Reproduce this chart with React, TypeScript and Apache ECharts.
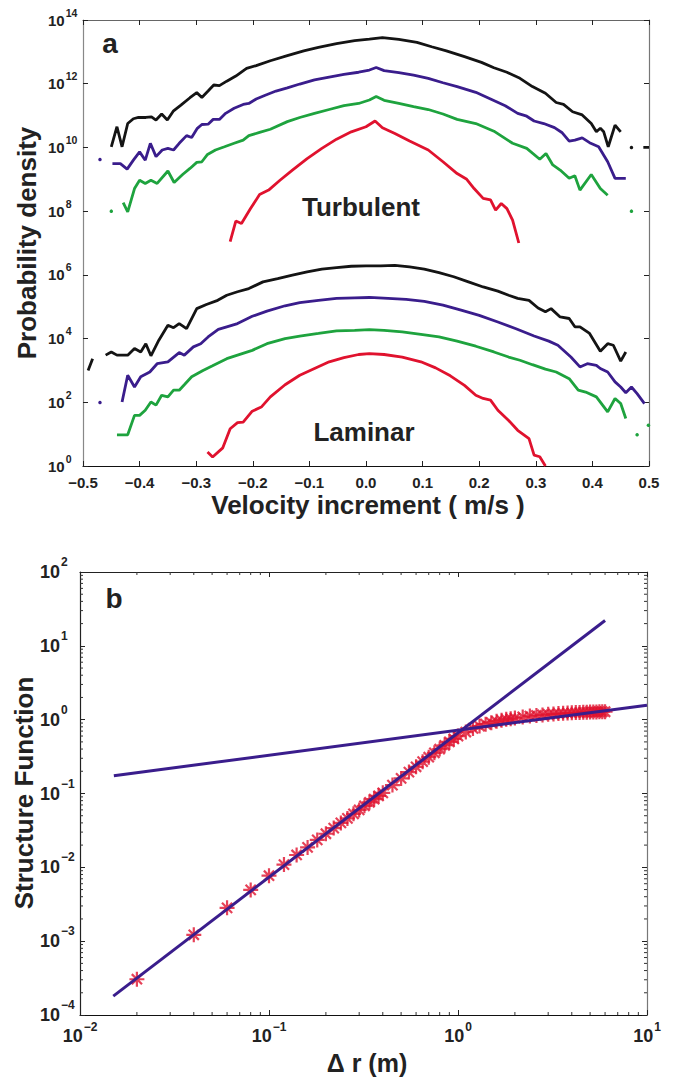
import React, { useEffect, useRef } from 'react';
import * as echarts from 'echarts';

// ---------- Panel a: velocity-increment PDFs (values are log10 of probability density) ----------
type Pt = [number, number | null];

const turbBlack: Pt[] = [
  [-0.450, 10.02], [-0.440, 10.65], [-0.431, 10.02], [-0.421, 10.75], [-0.411, 10.90], [-0.402, 10.94],
  [-0.389, 10.94], [-0.379, 10.96], [-0.371, 10.86], [-0.361, 11.05], [-0.351, 10.86], [-0.340, 11.15],
  [-0.327, 11.33], [-0.311, 11.56], [-0.299, 11.72], [-0.290, 11.57], [-0.279, 11.77], [-0.269, 11.96],
  [-0.259, 11.94], [-0.246, 12.08], [-0.230, 12.24], [-0.211, 12.48], [-0.194, 12.57], [-0.169, 12.72],
  [-0.139, 12.88], [-0.110, 13.03], [-0.084, 13.14], [-0.052, 13.26], [-0.020, 13.35], [0.006, 13.40],
  [0.029, 13.45], [0.058, 13.39], [0.090, 13.30], [0.116, 13.16], [0.142, 13.03], [0.174, 12.85],
  [0.204, 12.67], [0.226, 12.50], [0.249, 12.36], [0.272, 12.17], [0.294, 11.91], [0.317, 11.70],
  [0.336, 11.41], [0.349, 11.35], [0.365, 11.12], [0.382, 11.02], [0.398, 10.75], [0.407, 10.49],
  [0.414, 10.60], [0.420, 10.49], [0.428, 10.02], [0.440, 10.70], [0.450, 10.49],
  [0.460, null], [0.469, 10.0], [0.480, null], [0.490, 10.0], [0.500, 10.0],
];

const turbBlue: Pt[] = [
  [-0.470, 9.62], [-0.460, null],
  [-0.448, 9.49], [-0.434, 9.49], [-0.422, 9.32], [-0.411, 9.60], [-0.400, 9.86], [-0.390, 9.60],
  [-0.381, 10.13], [-0.371, 9.71], [-0.360, 9.92], [-0.350, 9.97], [-0.340, 9.92], [-0.330, 10.13],
  [-0.317, 10.37], [-0.308, 10.31], [-0.298, 10.60], [-0.290, 10.72], [-0.279, 10.73], [-0.270, 10.88],
  [-0.259, 10.88], [-0.248, 11.07], [-0.233, 11.23], [-0.217, 11.35], [-0.207, 11.38], [-0.194, 11.52],
  [-0.178, 11.64], [-0.159, 11.77], [-0.139, 11.87], [-0.117, 11.99], [-0.091, 12.12], [-0.065, 12.21],
  [-0.039, 12.29], [-0.013, 12.36], [0.006, 12.43], [0.018, 12.51], [0.032, 12.41], [0.058, 12.35],
  [0.084, 12.27], [0.110, 12.17], [0.136, 12.03], [0.161, 11.91], [0.194, 11.73], [0.220, 11.52],
  [0.246, 11.31], [0.268, 11.07], [0.284, 10.98], [0.297, 10.83], [0.314, 10.75], [0.333, 10.62],
  [0.346, 10.47], [0.359, 10.20], [0.369, 10.23], [0.382, 10.30], [0.395, 10.15], [0.411, 10.02],
  [0.427, 9.55], [0.440, 9.03], [0.459, 9.03],
];

const turbGreen: Pt[] = [
  [-0.450, 8.00], [-0.440, null],
  [-0.429, 8.27], [-0.421, 7.98], [-0.409, 8.71], [-0.400, 8.97], [-0.390, 8.87], [-0.380, 8.97],
  [-0.369, 8.87], [-0.350, 9.26], [-0.339, 8.90], [-0.324, 9.15], [-0.311, 9.34], [-0.299, 9.53],
  [-0.290, 9.55], [-0.280, 9.78], [-0.266, 9.92], [-0.250, 10.02], [-0.233, 10.13], [-0.217, 10.23],
  [-0.207, 10.37], [-0.188, 10.47], [-0.169, 10.57], [-0.139, 10.81], [-0.117, 10.94], [-0.091, 11.07],
  [-0.065, 11.19], [-0.039, 11.31], [-0.013, 11.38], [0.006, 11.49], [0.018, 11.60], [0.032, 11.48],
  [0.058, 11.38], [0.084, 11.28], [0.110, 11.19], [0.136, 11.05], [0.161, 10.88], [0.194, 10.75],
  [0.226, 10.51], [0.259, 10.13], [0.284, 9.97], [0.307, 9.63], [0.318, 9.81], [0.330, 9.45],
  [0.343, 9.29], [0.359, 9.03], [0.369, 9.11], [0.378, 8.66], [0.398, 9.15], [0.414, 8.71], [0.427, 8.50],
  [0.440, null], [0.469, 8.00],
];

const turbRed: Pt[] = [
  [-0.240, 7.04], [-0.230, 7.69], [-0.220, 7.61], [-0.204, 8.08], [-0.188, 8.52], [-0.172, 8.66],
  [-0.152, 8.97], [-0.130, 9.29], [-0.104, 9.65], [-0.078, 9.97], [-0.052, 10.26], [-0.026, 10.49],
  [0.000, 10.65], [0.016, 10.83], [0.029, 10.62], [0.051, 10.44], [0.077, 10.20], [0.110, 9.92],
  [0.136, 9.55], [0.161, 9.18], [0.178, 9.00], [0.191, 8.71], [0.207, 8.40], [0.220, 8.35],
  [0.229, 8.03], [0.239, 8.24], [0.249, 8.08], [0.259, 7.72], [0.270, 7.00],
];

const lamBlack: Pt[] = [
  [-0.491, 3.00], [-0.483, 3.37], [-0.470, null],
  [-0.460, 3.48], [-0.450, 3.58], [-0.440, 3.48], [-0.421, 3.48], [-0.409, 3.69], [-0.398, 3.58],
  [-0.389, 3.84], [-0.380, 3.46], [-0.366, 3.95], [-0.350, 4.42], [-0.340, 4.34], [-0.330, 4.47],
  [-0.317, 4.31], [-0.299, 4.94], [-0.282, 5.07], [-0.262, 5.20], [-0.246, 5.36], [-0.227, 5.47],
  [-0.207, 5.57], [-0.182, 5.78], [-0.156, 5.88], [-0.130, 5.99], [-0.104, 6.09], [-0.078, 6.18],
  [-0.052, 6.23], [-0.026, 6.27], [0.000, 6.28], [0.026, 6.28], [0.051, 6.30], [0.077, 6.25],
  [0.103, 6.18], [0.129, 6.07], [0.155, 5.94], [0.181, 5.78], [0.207, 5.62], [0.233, 5.49],
  [0.252, 5.36], [0.268, 5.26], [0.288, 5.20], [0.304, 4.96], [0.317, 4.84], [0.327, 4.94],
  [0.343, 4.68], [0.359, 4.63], [0.369, 4.37], [0.378, 4.37], [0.395, 4.16], [0.414, 3.60],
  [0.427, 3.84], [0.437, 3.79], [0.450, 3.29], [0.459, 3.58],
];

const lamBlue: Pt[] = [
  [-0.470, 1.99], [-0.450, null],
  [-0.431, 2.01], [-0.421, 2.85], [-0.409, 2.48], [-0.398, 2.80], [-0.382, 2.95], [-0.369, 3.21],
  [-0.350, 3.27], [-0.330, 3.56], [-0.321, 3.48], [-0.305, 3.74], [-0.292, 3.84], [-0.279, 4.05],
  [-0.261, 4.29], [-0.246, 4.37], [-0.227, 4.47], [-0.201, 4.70], [-0.175, 4.86], [-0.143, 5.03],
  [-0.117, 5.13], [-0.084, 5.20], [-0.052, 5.26], [-0.020, 5.28], [0.006, 5.29], [0.039, 5.26],
  [0.071, 5.23], [0.103, 5.17], [0.136, 5.05], [0.168, 4.89], [0.200, 4.73], [0.233, 4.52],
  [0.265, 4.31], [0.297, 4.08], [0.323, 3.92], [0.339, 3.79], [0.362, 3.42], [0.378, 3.11],
  [0.391, 3.21], [0.407, 3.16], [0.414, 3.06], [0.427, 2.95], [0.440, 2.64], [0.450, 2.48],
  [0.459, 2.30], [0.469, 2.48], [0.479, 2.27], [0.492, 1.96],
];

const lamGreen: Pt[] = [
  [-0.440, 0.98], [-0.421, 0.98], [-0.409, 1.59], [-0.400, 1.59], [-0.390, 1.75], [-0.380, 2.01],
  [-0.371, 1.91], [-0.361, 2.22], [-0.350, 2.17], [-0.340, 2.38], [-0.330, 2.38], [-0.321, 2.55],
  [-0.308, 2.80], [-0.288, 3.00], [-0.272, 3.14], [-0.246, 3.37], [-0.227, 3.48], [-0.201, 3.63],
  [-0.175, 3.84], [-0.143, 4.00], [-0.117, 4.08], [-0.084, 4.16], [-0.052, 4.24], [-0.020, 4.26],
  [0.006, 4.28], [0.032, 4.26], [0.064, 4.21], [0.097, 4.13], [0.129, 4.05], [0.161, 3.92],
  [0.194, 3.76], [0.226, 3.58], [0.252, 3.42], [0.272, 3.32], [0.294, 3.18], [0.317, 3.04],
  [0.336, 2.95], [0.359, 2.74], [0.375, 2.38], [0.388, 2.32], [0.407, 2.17], [0.427, 1.70],
  [0.440, 2.12], [0.450, 1.96], [0.459, 1.49],
  [0.469, null], [0.479, 0.98], [0.489, null], [0.499, 1.28],
];

const lamRed: Pt[] = [
  [-0.280, 0.44], [-0.271, 0.28], [-0.253, 0.57], [-0.240, 1.17], [-0.227, 1.36], [-0.217, 1.38],
  [-0.201, 1.72], [-0.185, 1.85], [-0.169, 2.17], [-0.143, 2.55], [-0.117, 2.85], [-0.091, 3.06],
  [-0.065, 3.27], [-0.039, 3.40], [-0.013, 3.50], [0.006, 3.53], [0.032, 3.50], [0.064, 3.42],
  [0.097, 3.27], [0.123, 3.08], [0.149, 2.83], [0.174, 2.53], [0.194, 2.22], [0.207, 2.12],
  [0.220, 2.07], [0.233, 1.75], [0.252, 1.43], [0.268, 1.12], [0.288, 0.86], [0.297, 0.34],
  [0.307, 0.29], [0.317, 0.00],
];

// ---------- Panel b: structure function vs separation ----------
const sfDr = [
  0.02, 0.04, 0.06, 0.08, 0.10, 0.12, 0.14, 0.16, 0.18, 0.20, 0.22, 0.24, 0.26, 0.28, 0.30, 0.32, 0.34,
  0.36, 0.38, 0.40, 0.45, 0.50, 0.55, 0.60, 0.65, 0.70, 0.75, 0.80, 0.85, 0.90, 0.95, 1.00, 1.1, 1.2,
  1.3, 1.4, 1.5, 1.6, 1.7, 1.8, 1.9, 2.0, 2.2, 2.4, 2.6, 2.8, 3.0, 3.2, 3.4, 3.6, 3.8, 4.0, 4.2, 4.4,
  4.6, 4.8, 5.0, 5.2, 5.4, 5.6, 5.8, 6.0,
];
const sfVal = [
  3.05e-4, 1.22e-3, 2.83e-3, 4.94e-3, 7.7e-3, 1.09e-2, 1.47e-2, 1.86e-2, 2.35e-2, 2.85e-2, 3.4e-2,
  4.0e-2, 4.6e-2, 5.3e-2, 6.0e-2, 6.8e-2, 7.6e-2, 8.4e-2, 9.3e-2, 0.102, 0.13, 0.16, 0.195, 0.23,
  0.27, 0.31, 0.355, 0.40, 0.45, 0.50, 0.55, 0.60, 0.68, 0.76, 0.82, 0.87, 0.91, 0.95, 0.98, 1.01,
  1.03, 1.05, 1.09, 1.12, 1.14, 1.16, 1.18, 1.19, 1.21, 1.22, 1.23, 1.24, 1.25, 1.25, 1.26, 1.26,
  1.27, 1.27, 1.27, 1.28, 1.28, 1.28,
];
// power-law fits (end points)
const fitSmallDr = [0.015, 6.0];
const fitSmallVal = [1.8e-4, 22];
const fitLargeDr = [0.0151, 10];
const fitLargeVal = [0.174, 1.57];

const panelLabels = ['a', 'b'];
const regimeLabels = ['Turbulent', 'Laminar'];

const FONT = '"Liberation Sans", Arial, Helvetica, sans-serif';
const BLACK = '#141414';
const BLUE = '#3a1d8c';
const GREEN = '#1ea33e';
const RED = '#e0122e';

const supText = (e: number) => (e < 0 ? '\u2212' + Math.abs(e) : String(e));

function lineData(pts: Pt[]) {
  return pts.map((p, i) => {
    const prevNull = i === 0 || pts[i - 1][1] === null;
    const nextNull = i === pts.length - 1 || pts[i + 1][1] === null;
    if (p[1] !== null && prevNull && nextNull) {
      return { value: p, symbol: 'circle', symbolSize: 3.5 };
    }
    return { value: p, symbol: 'none' };
  });
}

function pdfSeries(pts: Pt[], color: string) {
  return {
    type: 'line',
    xAxisIndex: 0,
    yAxisIndex: 0,
    data: lineData(pts),
    showSymbol: true,
    showAllSymbol: true,
    symbol: 'none',
    itemStyle: { color },
    lineStyle: { color, width: 2.8 },
    connectNulls: false,
    silent: true,
  };
}

const ASTERISK = 'path://M5 0L5 10M0 5L10 5M1.6 1.6L8.4 8.4M8.4 1.6L1.6 8.4';

export default function App() {
  const ref = useRef<HTMLDivElement>(null);

  useEffect(() => {
    if (!ref.current) return;
    const chart = echarts.init(ref.current, undefined, { renderer: 'svg' });

    const minorX: number[] = [];
    for (let d = -2; d < 1; d++) for (let m = 2; m <= 9; m++) minorX.push(m * Math.pow(10, d));
    const minorY: number[] = [];
    for (let d = -4; d < 2; d++) for (let m = 2; m <= 9; m++) minorY.push(m * Math.pow(10, d));

    const tickStyle = { color: '#222', width: 1 };
    const richA = {
      b: { fontSize: 15, fontWeight: 'bold', fontFamily: FONT, color: '#222' },
      s: { fontSize: 10.5, fontWeight: 'bold', fontFamily: FONT, color: '#222', padding: [0, 0, 15, 1] },
    };
    const richB = {
      b: { fontSize: 18, fontWeight: 'bold', fontFamily: FONT, color: '#222' },
      s: { fontSize: 12, fontWeight: 'bold', fontFamily: FONT, color: '#222', padding: [0, 0, 20, 1] },
    };
    const richBx = {
      b: { fontSize: 18, fontWeight: 'bold', fontFamily: FONT, color: '#222' },
      s: { fontSize: 12, fontWeight: 'bold', fontFamily: FONT, color: '#222', padding: [0, 0, 17, 1] },
    };
    const logLabel = (v: number) => `{b|10}{s|${supText(Math.round(Math.log10(v)))}}`;

    const txt = (text: string, x: number, y: number, size: number, rotation = 0) => ({
      type: 'text',
      x,
      y,
      rotation,
      silent: true,
      style: {
        text,
        fontSize: size,
        fontWeight: 'bold',
        fontFamily: FONT,
        fill: '#222',
        align: 'center',
        verticalAlign: 'middle',
      },
    });

    const minorTick = (axis: 'x' | 'y') => (params: any, api: any) => {
      const cs = params.coordSys;
      const len = 3;
      const st = { stroke: '#333', lineWidth: 1 };
      if (axis === 'x') {
        const x = api.coord([api.value(0), 1])[0];
        return {
          type: 'group',
          children: [
            { type: 'line', shape: { x1: x, y1: cs.y + cs.height, x2: x, y2: cs.y + cs.height - len }, style: st },
            { type: 'line', shape: { x1: x, y1: cs.y, x2: x, y2: cs.y + len }, style: st },
          ],
        };
      }
      const y = api.coord([1, api.value(1)])[1];
      return {
        type: 'group',
        children: [
          { type: 'line', shape: { x1: cs.x, y1: y, x2: cs.x + len, y2: y }, style: st },
          { type: 'line', shape: { x1: cs.x + cs.width, y1: y, x2: cs.x + cs.width - len, y2: y }, style: st },
        ],
      };
    };

    const line = (color: string) => ({ onZero: false, lineStyle: { color, width: 1.2 } });

    chart.setOption({
      animation: false,
      backgroundColor: '#fff',
      grid: [
        { left: 83, top: 20, width: 566, height: 446 },
        { left: 80, top: 572, width: 567, height: 443 },
      ],
      xAxis: [
        {
          gridIndex: 0, type: 'value', min: -0.5, max: 0.5, interval: 0.1, position: 'bottom',
          axisLine: line('#111'),
          axisTick: { inside: true, length: 5, lineStyle: tickStyle },
          axisLabel: {
            margin: 9, fontSize: 15, fontWeight: 'bold', fontFamily: FONT, color: '#222',
            formatter: (v: number) => (v < -1e-9 ? '\u2212' + Math.abs(v).toFixed(1) : Math.abs(v).toFixed(1)),
          },
          splitLine: { show: false },
        },
        {
          gridIndex: 0, type: 'value', min: -0.5, max: 0.5, interval: 0.1, position: 'top',
          axisLine: line('#666'),
          axisTick: { inside: true, length: 5, lineStyle: tickStyle },
          axisLabel: { show: false },
          splitLine: { show: false },
        },
        {
          gridIndex: 1, type: 'log', logBase: 10, min: 0.01, max: 10, position: 'bottom',
          axisLine: line('#111'),
          axisTick: { inside: true, length: 5, lineStyle: tickStyle },
          axisLabel: { margin: 6, formatter: logLabel, rich: richBx },
          splitLine: { show: false },
        },
        {
          gridIndex: 1, type: 'log', logBase: 10, min: 0.01, max: 10, position: 'top',
          axisLine: line('#222'),
          axisTick: { inside: true, length: 5, lineStyle: tickStyle },
          axisLabel: { show: false },
          splitLine: { show: false },
        },
      ],
      yAxis: [
        {
          gridIndex: 0, type: 'value', min: 0, max: 14, interval: 2, position: 'left',
          axisLine: line('#888'),
          axisTick: { inside: true, length: 5, lineStyle: tickStyle },
          axisLabel: { margin: 35, align: 'left', formatter: (v: number) => `{b|10}{s|${v}}`, rich: richA },
          splitLine: { show: false },
        },
        {
          gridIndex: 0, type: 'value', min: 0, max: 14, interval: 2, position: 'right',
          axisLine: line('#777'),
          axisTick: { inside: true, length: 5, lineStyle: tickStyle },
          axisLabel: { show: false },
          splitLine: { show: false },
        },
        {
          gridIndex: 1, type: 'log', logBase: 10, min: 1e-4, max: 100, position: 'left',
          axisLine: line('#222'),
          axisTick: { inside: true, length: 5, lineStyle: tickStyle },
          axisLabel: { margin: 40, align: 'left', formatter: logLabel, rich: richB },
          splitLine: { show: false },
        },
        {
          gridIndex: 1, type: 'log', logBase: 10, min: 1e-4, max: 100, position: 'right',
          axisLine: line('#777'),
          axisTick: { inside: true, length: 5, lineStyle: tickStyle },
          axisLabel: { show: false },
          splitLine: { show: false },
        },
      ],
      series: [
        pdfSeries(turbBlack, BLACK),
        pdfSeries(turbBlue, BLUE),
        pdfSeries(turbGreen, GREEN),
        pdfSeries(turbRed, RED),
        pdfSeries(lamBlack, BLACK),
        pdfSeries(lamBlue, BLUE),
        pdfSeries(lamGreen, GREEN),
        pdfSeries(lamRed, RED),
        {
          type: 'scatter',
          xAxisIndex: 2,
          yAxisIndex: 2,
          data: sfDr.map((r, i) => [r, sfVal[i]]),
          symbol: ASTERISK,
          symbolSize: 15,
          itemStyle: { color: 'none', borderColor: RED, borderWidth: 2.2 },
          silent: true,
          z: 2,
        },
        {
          type: 'line',
          xAxisIndex: 2,
          yAxisIndex: 2,
          data: fitSmallDr.map((r, i) => [r, fitSmallVal[i]]),
          symbol: 'none',
          lineStyle: { color: BLUE, width: 3 },
          silent: true,
          z: 3,
        },
        {
          type: 'line',
          xAxisIndex: 2,
          yAxisIndex: 2,
          data: fitLargeDr.map((r, i) => [r, fitLargeVal[i]]),
          symbol: 'none',
          lineStyle: { color: BLUE, width: 3 },
          silent: true,
          z: 3,
        },
        {
          type: 'custom',
          xAxisIndex: 2,
          yAxisIndex: 2,
          data: minorX.map((v) => [v, 1]),
          renderItem: minorTick('x'),
          silent: true,
          clip: false,
          z: 4,
        },
        {
          type: 'custom',
          xAxisIndex: 2,
          yAxisIndex: 2,
          data: minorY.map((v) => [1, v]),
          renderItem: minorTick('y'),
          silent: true,
          clip: false,
          z: 4,
        },
      ],
      graphic: [
        txt(panelLabels[0], 110, 43, 28),
        txt(panelLabels[1], 114, 598, 28),
        txt(regimeLabels[0], 361, 207, 26),
        txt(regimeLabels[1], 364, 432, 26),
        txt('Probability density', 27, 243, 26, Math.PI / 2),
        txt('Velocity increment ( m/s )', 368, 505, 26),
        txt('Structure Function', 24, 793, 26, Math.PI / 2),
        txt('\u0394 r (m)', 367, 1063, 25),
      ],
    });

    return () => chart.dispose();
  }, []);

  return (
    <div
      ref={ref}
      style={{ position: 'fixed', left: 0, top: 0, width: 684, height: 1078, background: '#fff' }}
    />
  );
}
